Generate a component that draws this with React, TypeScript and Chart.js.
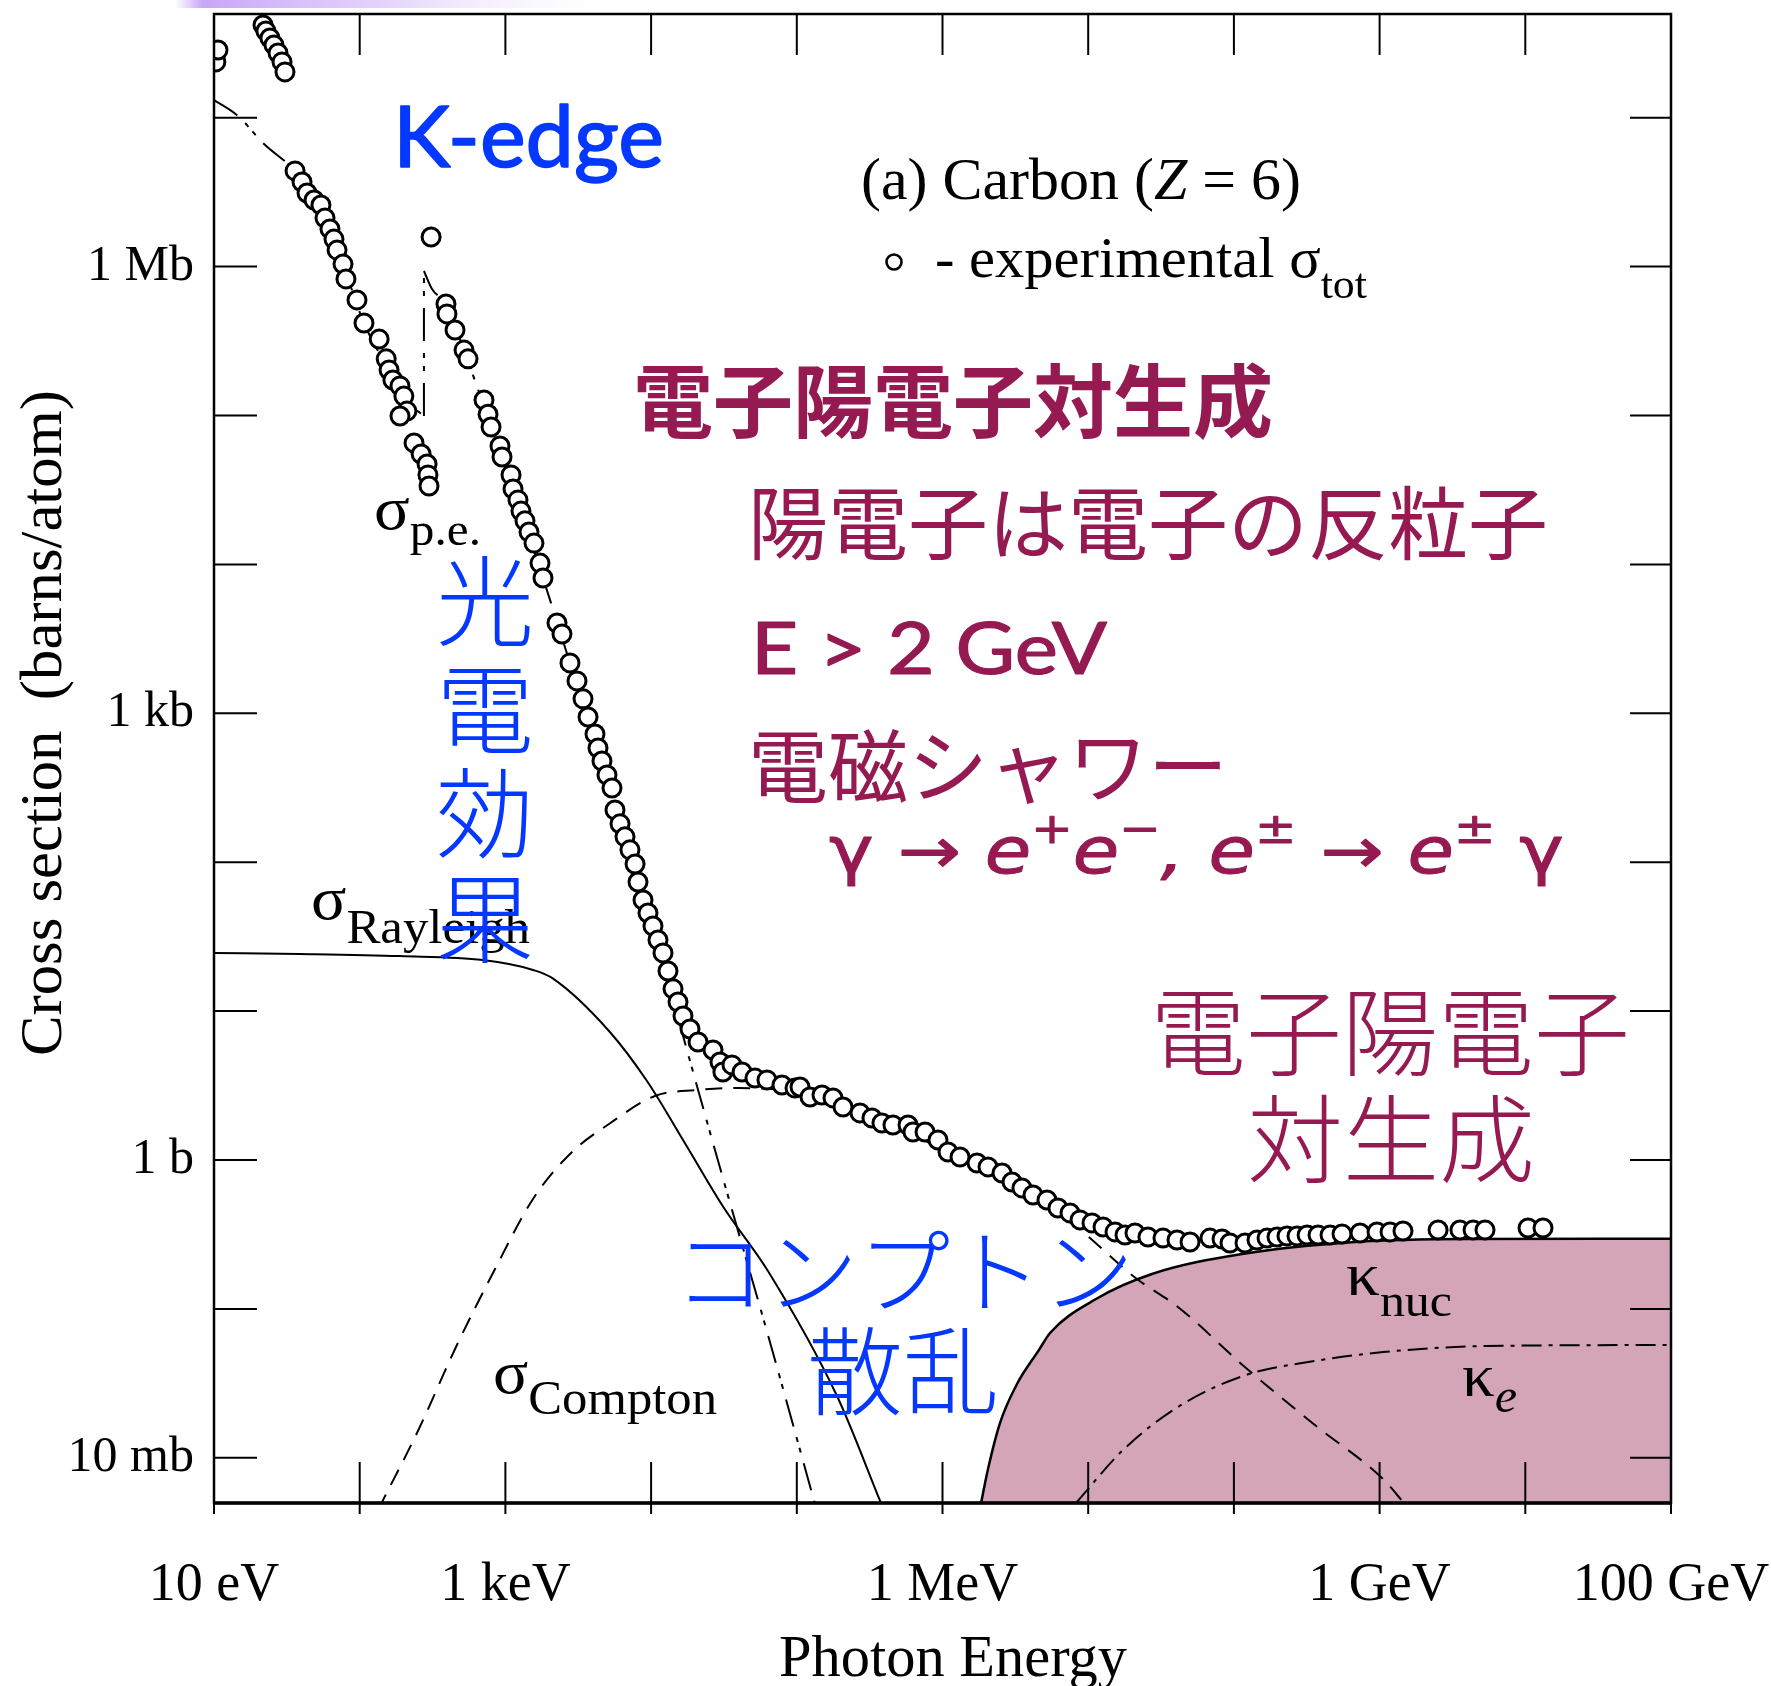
import React, { useEffect, useRef } from 'react';
import { Chart, registerables } from 'chart.js';

Chart.register(...registerables);

// ---------- axes ----------
const X_MIN = 10; // eV
const X_MAX = 1e11; // eV
const Y_MIN = 4.97e-3; // barns
const Y_MAX = 4.97e7; // barns
const X_TICKS = [10, 1e2, 1e3, 1e4, 1e5, 1e6, 1e7, 1e8, 1e9, 1e10, 1e11];
const X_LABELS = ['10 eV', '', '1 keV', '', '', '1 MeV', '', '', '1 GeV', '', '100 GeV'];
const Y_TICKS = [1e-2, 1e-1, 1, 10, 100, 1e3, 1e4, 1e5, 1e6, 1e7];
const Y_LABELS = ['10 mb', '', '1 b', '', '', '1 kb', '', '', '1 Mb', ''];

// ---------- experimental sigma_tot (photon energy in eV, cross section in barns) ----------
const EXP_E = [
  10.3, 10.65, 21.7, 22.7, 24.2, 25.8, 27.5, 29.3, 30.7,
  36.0, 40.2, 43.5, 48.6, 54.2, 57.8, 62.5, 66.6, 69.9, 76.8, 80.5, 95.8, 107, 136, 152, 159, 169, 189, 201, 211, 189, 236, 264, 290, 294, 299,
  309,
  391, 397, 451, 520, 554, 713, 760, 797, 918, 948, 1093, 1128, 1220, 1279, 1363, 1452, 1571, 1728, 1811,
  2260, 2445, 2775, 3100, 3410, 3690, 4120, 4320, 4600, 4980, 5390, 5650, 6120, 6620, 7160, 7760, 8130, 8800, 9520, 1.03e4, 1.115e4, 1.207e4, 1.306e4, 1.414e4, 1.53e4, 1.655e4, 1.849e4, 2.1e4,
  2.66e4, 2.97e4, 3.11e4, 3.59e4, 4.21e4, 5.16e4, 6.24e4, 7.91e4, 9.72e4, 1.052e5, 1.232e5, 1.489e5, 1.772e5, 2.076e5, 2.715e5, 3.28e5, 3.84e5, 4.57e5, 5.8e5, 6.27e5, 7.59e5, 9.31e5, 1.091e6, 1.319e6, 1.725e6, 2.053e6, 2.562e6, 3.0e6, 3.51e6, 4.18e6, 5.21e6, 6.2e6, 7.5e6, 8.79e6, 1.062e7, 1.264e7, 1.528e7, 1.789e7, 2.095e7, 2.57e7, 3.26e7, 4.07e7, 5.0e7, 6.85e7, 8.29e7, 9.4e7, 1.192e8, 1.441e8, 1.688e8, 1.976e8, 2.314e8, 2.71e8, 3.18e8, 3.78e8, 4.57e8, 5.52e8, 7.34e8, 9.6e8, 1.179e9, 1.447e9, 2.52e9, 3.56e9, 4.38e9, 5.29e9, 1.044e10, 1.323e10,
];
const EXP_S = [
  2.37e7, 2.85e7, 4.19e7, 3.82e7, 3.43e7, 3.08e7, 2.72e7, 2.37e7, 2.03e7,
  4.39e6, 3.7e6, 3.12e6, 2.8e6, 2.59e6, 2.12e6, 1.79e6, 1.53e6, 1.29e6, 1.04e6, 8.26e5, 5.97e5, 4.18e5, 3.26e5, 2.4e5, 2.02e5, 1.73e5, 1.58e5, 1.35e5, 1.07e5, 9.92e4, 6.54e4, 5.51e4, 4.72e4, 3.99e4, 3.36e4,
  1.58e6,
  5.61e5, 4.81e5, 3.75e5, 2.75e5, 2.4e5, 1.27e5, 1.02e5, 8.37e4, 6.24e4, 5.26e4, 3.99e4, 3.21e4, 2.71e4, 2.28e4, 1.96e4, 1.65e4, 1.39e4, 1.02e4, 8.1e3,
  4.04e3, 3.41e3, 2.18e3, 1.65e3, 1.25e3, 944, 726, 585, 478, 385, 315, 224, 181, 148, 121, 97.3, 73.6, 55.7, 45.6, 37.3, 30.0, 24.6, 18.6, 14.1, 11.5, 9.27, 7.58, 6.2,
  5.48, 4.55, 3.9, 4.35, 3.9, 3.55, 3.45, 3.19, 3.04, 3.09, 2.65, 2.73, 2.61, 2.27, 2.07, 1.915, 1.772, 1.718, 1.718, 1.542, 1.542, 1.363, 1.132, 1.047, 0.955, 0.898, 0.818, 0.712, 0.649, 0.582, 0.539, 0.476, 0.441, 0.396, 0.378, 0.355, 0.329, 0.3135, 0.3235, 0.304, 0.299, 0.29, 0.2815, 0.299, 0.2947, 0.277, 0.277, 0.29, 0.299, 0.304, 0.309, 0.309, 0.3135, 0.3135, 0.3135, 0.3185, 0.3235, 0.3285, 0.3285, 0.3337, 0.339, 0.339, 0.339, 0.339, 0.3495, 0.3495,
];

// ---------- theory curves ----------
const RAY_E = [10, 38.9, 189, 702, 1547, 2089, 5140, 9370, 1.736e4, 3.165e4, 6.34e4, 1.888e5, 3.78e5];
const RAY_S = [24.6, 24.2, 23.4, 22.0, 18.9, 16.7, 7.35, 3.39, 1.261, 0.476, 0.1797, 0.026, 0.00497];

const CMP_E = [133.6, 251, 458, 835, 1547, 2820, 5140, 1.063e4, 2.065e4, 3.59e4, 1.052e5, 5.11e5, 1.319e6, 3.4e6, 7.38e6, 2.16e7, 4.13e7, 1.211e8, 3.6e8, 1.055e9, 1.47e9];
const CMP_S = [0.00447, 0.01514, 0.0555, 0.1797, 0.547, 1.114, 1.745, 2.69, 2.95, 3.04, 2.86, 1.641, 1.0, 0.61, 0.389, 0.1588, 0.103, 0.0401, 0.0166, 0.0072, 0.00497];

const PE_LOW_E = [10, 14.6, 21.7, 36.0, 54.2, 76.8, 107, 159, 211, 276];
const PE_LOW_S = [1.315e7, 1.027e7, 6.76e6, 4.39e6, 2.59e6, 1.04e6, 4.18e5, 2.02e5, 1.25e5, 9.92e4];
const KEDGE_E = [276, 276];
const KEDGE_S = [9.92e4, 9.34e5];
const PE_HIGH_E = [276, 313.5, 391, 520, 797, 1128, 1811, 2775, 4320, 6620, 1.03e4, 1.579e4, 3.11e4, 6.34e4, 1.333e5];
const PE_HIGH_S = [9.34e5, 7.07e5, 5.61e5, 2.75e5, 8.37e4, 3.21e4, 8.1e3, 2.18e3, 585, 148, 37.3, 8.07, 0.757, 0.0668, 0.0049];

const KNUC_E = [1.78e6, 2.053e6, 2.48e6, 3.246e6, 4.596e6, 5.47e6, 1.131e7, 2.74e7, 1.137e8, 6.78e8, 4.04e9, 1e11];
const KNUC_S = [0.0042, 0.0084, 0.0171, 0.0313, 0.053, 0.0689, 0.1165, 0.1715, 0.2337, 0.2813, 0.2947, 0.296];

const KE_E = [8.25e6, 1.733e7, 4.13e7, 1.211e8, 3.6e8, 1.055e9, 5.37e9, 1e11];
const KE_S = [0.00497, 0.01128, 0.02195, 0.036, 0.0447, 0.0513, 0.0563, 0.0572];

// ---------- styling ----------
const SERIF = '"Liberation Serif", "Times New Roman", serif';
const CJK = '"Noto Sans CJK JP", sans-serif';
const BLUE = '#0538ff';
const MAROON = '#951a52';
const FILL = '#d4a5b9';

const pts = (xs: number[], ys: number[]) => xs.map((x, i) => ({ x, y: ys[i] }));

function labelFor(ticks: number[], labels: string[], v: number) {
  for (let i = 0; i < ticks.length; i++) {
    if (Math.abs(Math.log10(v) - Math.log10(ticks[i])) < 1e-6) return labels[i];
  }
  return '';
}

type Seg = { t: string; f: string; dy?: number };

function rich(ctx: any, segs: Seg[], x: number, y: number, color: string, width?: number, align: string = 'left', stroke = 0) {
  ctx.save();
  ctx.fillStyle = color;
  ctx.strokeStyle = color;
  ctx.lineJoin = 'round';
  ctx.lineWidth = stroke;
  ctx.textBaseline = 'alphabetic';
  ctx.textAlign = 'left';
  let total = 0;
  const ws = segs.map((s) => {
    ctx.font = s.f;
    const w = ctx.measureText(s.t).width;
    total += w;
    return w;
  });
  const k = width ? width / total : 1;
  const x0 = align === 'center' ? x - (total * k) / 2 : x;
  ctx.translate(x0, y);
  ctx.scale(k, 1);
  let cx = 0;
  segs.forEach((s, i) => {
    ctx.font = s.f;
    ctx.fillText(s.t, cx, s.dy || 0);
    if (stroke > 0) ctx.strokeText(s.t, cx, s.dy || 0);
    cx += ws[i];
  });
  ctx.restore();
}

function cjk(ctx: any, text: string, left: number, cy: number, size: number, color: string, weight = 'normal') {
  ctx.save();
  ctx.font = `${weight} ${size}px ${CJK}`;
  ctx.fillStyle = color;
  ctx.textAlign = 'left';
  ctx.textBaseline = 'alphabetic';
  ctx.fillText(text, left, cy + 0.38 * size);
  ctx.restore();
}

function line(ctx: any, x1: number, y1: number, x2: number, y2: number) {
  ctx.beginPath();
  ctx.moveTo(x1, y1);
  ctx.lineTo(x2, y2);
  ctx.stroke();
}

const decorPlugin = {
  id: 'decor',
  beforeDraw(chart: any) {
    const ctx = chart.ctx;
    ctx.save();
    ctx.fillStyle = '#ffffff';
    ctx.fillRect(0, 0, chart.width, chart.height);
    const g = ctx.createLinearGradient(175, 0, 640, 0);
    g.addColorStop(0, 'rgba(200,165,248,0)');
    g.addColorStop(0.06, 'rgba(200,165,248,1)');
    g.addColorStop(0.45, 'rgba(222,200,250,0.8)');
    g.addColorStop(1, 'rgba(255,255,255,0)');
    ctx.fillStyle = g;
    ctx.fillRect(175, 0, 465, 8);
    ctx.restore();
  },
  afterDatasetsDraw(chart: any) {
    const ctx = chart.ctx;
    const { left, right, top, bottom } = chart.chartArea;
    const xs = chart.scales.x;
    const ys = chart.scales.y;
    ctx.save();
    ctx.strokeStyle = '#000';
    ctx.lineWidth = 2;
    for (const v of X_TICKS) {
      const px = xs.getPixelForValue(v);
      line(ctx, px, bottom + 11, px, bottom - 41);
      line(ctx, px, top, px, top + 41);
    }
    for (const v of Y_TICKS) {
      const py = ys.getPixelForValue(v);
      line(ctx, left, py, left + 43, py);
      line(ctx, right - 41, py, right, py);
    }
    ctx.lineWidth = 2.5;
    ctx.strokeRect(left, top, right - left, bottom - top);
    ctx.lineWidth = 3.5;
    line(ctx, left, bottom, right, bottom);

    // axis titles
    rich(ctx, [{ t: 'Photon Energy', f: `59px ${SERIF}` }], 953, 1676, '#000', 348, 'center');
    ctx.save();
    ctx.translate(61, 723);
    ctx.rotate(-Math.PI / 2);
    rich(ctx, [{ t: 'Cross section  (barns/atom)', f: `60px ${SERIF}` }], 0, 0, '#000', 666, 'center');
    ctx.restore();

    // legend block
    rich(ctx, [
      { t: '(a) Carbon (', f: `59px ${SERIF}` },
      { t: 'Z', f: `italic 59px ${SERIF}` },
      { t: ' = 6)', f: `59px ${SERIF}` },
    ], 861, 199, '#000', 440);
    ctx.beginPath();
    ctx.lineWidth = 2.6;
    ctx.fillStyle = '#fff';
    ctx.arc(894, 262, 7.5, 0, Math.PI * 2);
    ctx.fill();
    ctx.stroke();
    rich(ctx, [
      { t: '- experimental σ', f: `56px ${SERIF}` },
      { t: 'tot', f: `42px ${SERIF}`, dy: 21 },
    ], 935, 277, '#000', 432);

    // curve labels
    rich(ctx, [{ t: 'σ', f: `62px ${SERIF}` }, { t: 'p.e.', f: `46px ${SERIF}`, dy: 16 }], 374, 529, '#000', 107);
    rich(ctx, [{ t: 'σ', f: `62px ${SERIF}` }, { t: 'Rayleigh', f: `48px ${SERIF}`, dy: 24 }], 311, 919, '#000', 219);
    rich(ctx, [{ t: 'σ', f: `62px ${SERIF}` }, { t: 'Compton', f: `48px ${SERIF}`, dy: 21 }], 493, 1393, '#000', 224);
    rich(ctx, [{ t: 'κ', f: `62px ${SERIF}` }, { t: 'nuc', f: `46px ${SERIF}`, dy: 21 }], 1346, 1295, '#000', 106);
    rich(ctx, [{ t: 'κ', f: `62px ${SERIF}` }, { t: 'e', f: `italic 48px ${SERIF}`, dy: 16 }], 1462, 1396, '#000', 55);

    // maroon block
    cjk(ctx, '電子陽電子対生成', 633, 401, 80, MAROON, 'bold');
    cjk(ctx, '陽電子は電子の反粒子', 748, 523, 80, MAROON);
    rich(ctx, [{ t: 'E > 2 GeV', f: `72px Lato` }], 751, 674, MAROON, 356, 'left', 1.2);
    cjk(ctx, '電磁シャワー', 748, 766, 80, MAROON);
    const gm = `italic 64px "DejaVu Sans"`;
    const gu = `64px "DejaVu Sans"`;
    const gs = `42px "DejaVu Sans"`;
    rich(ctx, [
      { t: 'γ', f: gu },
      { t: ' → e', f: gm },
      { t: '+', f: gs, dy: -30 },
      { t: 'e', f: gm },
      { t: '−', f: gs, dy: -30 },
      { t: ', e', f: gm },
      { t: '±', f: gs, dy: -30 },
      { t: ' → e', f: gm },
      { t: '±', f: gs, dy: -30 },
      { t: ' γ', f: gu },
    ], 829, 873, MAROON, 735, 'left', 1.0);
    cjk(ctx, '電子陽電子', 1150, 1032, 96, MAROON, '300');
    cjk(ctx, '対生成', 1247, 1139, 96, MAROON, '300');

    // blue labels
    rich(ctx, [{ t: 'K-edge', f: `86px Lato` }], 393, 167, BLUE, 271, 'left', 1.6);
    const vert = ['光', '電', '効', '果'];
    const vy = [601, 709, 813, 918];
    ctx.save();
    ctx.font = `300 98px ${CJK}`;
    ctx.fillStyle = BLUE;
    ctx.textAlign = 'center';
    ctx.textBaseline = 'alphabetic';
    vert.forEach((c, i) => ctx.fillText(c, 485, vy[i] + 0.38 * 98));
    ctx.restore();
    cjk(ctx, 'コンプトン', 674, 1271, 92, BLUE, '300');
    cjk(ctx, '散乱', 807, 1371, 96, BLUE, '300');
    ctx.restore();
  },
};

const lineDs = (data: any, dash: number[], width = 2) => ({
  data,
  showLine: true,
  pointRadius: 0,
  borderColor: '#000',
  borderWidth: width,
  borderDash: dash,
  fill: false,
  cubicInterpolationMode: 'monotone',
});

export default function App() {
  const ref = useRef<HTMLCanvasElement>(null);
  useEffect(() => {
    document.body.style.margin = '0';
    const canvas = ref.current;
    if (!canvas) return;
    const DASHDOT = [28, 11, 5, 6, 5, 11];
    const chart = new Chart(canvas, {
      type: 'scatter',
      data: {
        datasets: [
          {
            label: 'experimental σtot',
            data: pts(EXP_E, EXP_S),
            showLine: false,
            pointRadius: 9,
            pointBorderWidth: 3,
            pointBackgroundColor: '#ffffff',
            pointBorderColor: '#000000',
            pointStyle: 'circle',
          } as any,
          { label: 'σRayleigh', ...lineDs(pts(RAY_E, RAY_S), []) } as any,
          { label: 'σCompton', ...lineDs(pts(CMP_E, CMP_S), [17, 11]) } as any,
          { label: 'σp.e. low', ...lineDs(pts(PE_LOW_E, PE_LOW_S), DASHDOT) } as any,
          { label: 'K-edge', ...lineDs(pts(KEDGE_E, KEDGE_S), [33, 12, 5, 8, 5, 12]), cubicInterpolationMode: 'default', tension: 0 } as any,
          { label: 'σp.e. high', ...lineDs(pts(PE_HIGH_E, PE_HIGH_S), DASHDOT) } as any,
          { label: 'κe', ...lineDs(pts(KE_E, KE_S), [20, 7, 4, 7]) } as any,
          {
            label: 'κnuc',
            ...lineDs(pts(KNUC_E, KNUC_S), [], 2.5),
            fill: 'start',
            backgroundColor: FILL,
          } as any,
        ],
      },
      options: {
        animation: false,
        responsive: false,
        events: [],
        layout: { padding: { top: 14, right: 100, left: 0, bottom: 0 } },
        plugins: {
          legend: { display: false },
          tooltip: { enabled: false },
          title: { display: false },
        },
        scales: {
          x: {
            type: 'logarithmic',
            position: 'bottom',
            min: X_MIN,
            max: X_MAX,
            afterBuildTicks: (s: any) => {
              s.ticks = X_TICKS.map((v) => ({ value: v }));
            },
            afterFit: (s: any) => {
              s.height = 183;
              s.paddingLeft = 0;
              s.paddingRight = 0;
            },
            ticks: {
              autoSkip: false,
              maxRotation: 0,
              minRotation: 0,
              padding: 50,
              color: '#000',
              font: { family: 'Liberation Serif', size: 54 },
              callback: (v: any) => labelFor(X_TICKS, X_LABELS, Number(v)),
            },
            grid: { display: false, drawTicks: false },
            border: { display: false },
          },
          y: {
            type: 'logarithmic',
            position: 'left',
            min: Y_MIN,
            max: Y_MAX,
            afterBuildTicks: (s: any) => {
              s.ticks = Y_TICKS.map((v) => ({ value: v }));
            },
            afterFit: (s: any) => {
              s.width = 214;
              s.paddingTop = 0;
              s.paddingBottom = 0;
            },
            ticks: {
              autoSkip: false,
              padding: 20,
              color: '#000',
              font: { family: 'Liberation Serif', size: 50 },
              callback: (v: any) => labelFor(Y_TICKS, Y_LABELS, Number(v)),
            },
            grid: { display: false, drawTicks: false },
            border: { display: false },
          },
        },
      } as any,
      plugins: [decorPlugin as any],
    });
    return () => chart.destroy();
  }, []);
  return <canvas ref={ref} width={1771} height={1686} style={{ display: 'block', width: '1771px', height: '1686px' }} />;
}
